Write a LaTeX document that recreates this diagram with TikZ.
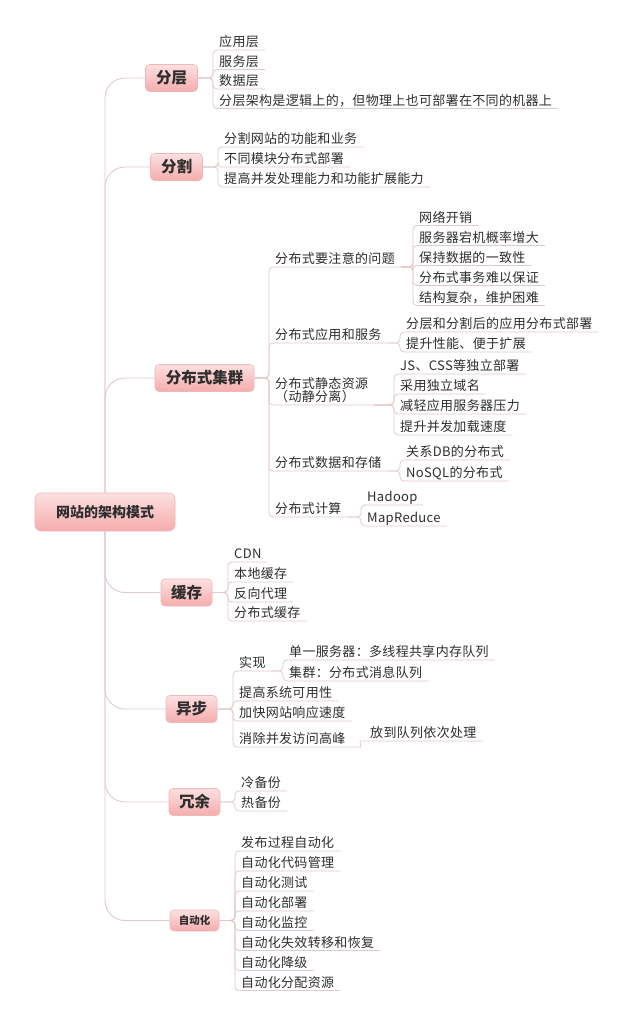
\documentclass[tikz,border=0pt]{standalone}
\usepackage{fontspec}
\setmainfont{Noto Sans CJK SC}
\newfontfamily\leaffont{Noto Sans CJK SC}[LetterSpace=2.5]
\definecolor{ln}{HTML}{E5C9C9}
\definecolor{tx}{HTML}{2E2E2E}
\definecolor{bxtop}{HTML}{FDE0E0}
\definecolor{bxbot}{HTML}{F5ACAC}
\definecolor{bxdraw}{HTML}{EFB7B7}
\begin{document}
\begin{tikzpicture}[x=1pt,y=-1pt,
  mainbox/.style={rounded corners=4pt, top color=bxtop, bottom color=bxbot, draw=bxdraw, line width=0.6pt,
    font=\fontsize{15.5}{16}\selectfont\bfseries, text=tx, inner sep=0pt, minimum height=27pt},
  rootbox/.style={mainbox, font=\fontsize{14}{15}\selectfont\bfseries, minimum width=140pt, minimum height=38pt, rounded corners=6pt},
  leaf/.style={anchor=south west, inner xsep=6pt, inner ysep=0pt, text height=10pt, text depth=3pt,
    font=\leaffont\fontsize{13}{14}\selectfont, text=tx, align=left},
  conn/.style={draw=ln, line width=0.8pt, rounded corners=4pt},
  trunk/.style={draw=ln, line width=0.9pt, rounded corners=20pt}]
\fill[white] (0,0) rectangle (632,1024);
\useasboundingbox (0,0) rectangle (632,1024);

% root and main branches
\node[rootbox] (root) at (105,512) {网站的架构模式};
\node[mainbox, minimum width=52pt] (fc) at (171.5,78) {分层};
\node[mainbox, minimum width=52pt] (fg) at (176.5,167) {分割};
\node[mainbox, minimum width=99pt] (fb) at (204.5,378) {分布式集群};
\node[mainbox, minimum width=51pt] (hc) at (186.5,592.5) {缓存};
\node[mainbox, minimum width=51pt] (yb) at (191.5,709) {异步};
\node[mainbox, minimum width=51pt] (ry) at (194.5,802) {冗余};
\node[mainbox, minimum width=49pt, minimum height=21pt, font=\fontsize{10.5}{11}\selectfont\bfseries] (zd) at (194.5,920.5) {自动化};

\foreach \m in {fc,fg,fb} {\draw[trunk] (root.north) |- (\m.west);}
\foreach \m in {hc,yb,ry,zd} {\draw[trunk] (root.south) |- (\m.west);}

% 分层
\foreach \n/\y/\t in {fc1/50/应用层, fc2/69.5/服务层, fc3/89/数据层, fc4/108.5/分层架构是逻辑上的，但物理上也可部署在不同的机器上} {
  \node[leaf] (\n) at (213,\y) {\t};
  \draw[conn] (fc.east) -| (\n.south west) -- (\n.south east);
}
% 分割
\foreach \n/\y/\t in {fg1/147/分割网站的功能和业务, fg2/167/不同模块分布式部署, fg3/187/提高并发处理能力和功能扩展能力} {
  \node[leaf] (\n) at (218,\y) {\t};
  \draw[conn] (fg.east) -| (\n.south west) -- (\n.south east);
}
% 分布式集群
\node[leaf] (fbA) at (269,267) {分布式要注意的问题};
\node[leaf] (fbB) at (269,343) {分布式应用和服务};
\node[leaf, font=\leaffont\fontsize{13}{13.5}\selectfont] (fbC) at (269,405) {分布式静态资源\\（动静分离）};
\node[leaf] (fbD) at (269,471) {分布式数据和存储};
\node[leaf] (fbE) at (269,517) {分布式计算};
\foreach \n in {fbA,fbB,fbC,fbD,fbE} {\draw[conn] (fb.east) -| (\n.south west) -- (\n.south east);}

\foreach \n/\y/\t in {a1/225.5/网络开销, a2/245.5/服务器宕机概率增大, a3/265.5/保持数据的一致性, a4/285.5/分布式事务难以保证, a5/305.5/结构复杂，维护困难} {
  \node[leaf] (\n) at (413,\y) {\t};
  \draw[conn] (fbA.south east) -| (\n.south west) -- (\n.south east);
}
\foreach \n/\y/\t in {b1/332/分层和分割后的应用分布式部署, b2/352/提升性能、便于扩展} {
  \node[leaf] (\n) at (400,\y) {\t};
  \draw[conn] (fbB.south east) -| (\n.south west) -- (\n.south east);
}
\foreach \n/\y/\t in {c1/374/JS、CSS等独立部署, c2/394/采用独立域名, c3/414/减轻应用服务器压力, c4/435/提升并发加载速度} {
  \node[leaf] (\n) at (394,\y) {\t};
  \draw[conn] (fbC.south east) -| (\n.south west) -- (\n.south east);
}
\foreach \n/\y/\t in {d1/460/关系DB的分布式, d2/481/NoSQL的分布式} {
  \node[leaf] (\n) at (400,\y) {\t};
  \draw[conn] (fbD.south east) -| (\n.south west) -- (\n.south east);
}
\foreach \n/\y/\t in {e1/505/Hadoop, e2/526/MapReduce} {
  \node[leaf] (\n) at (361,\y) {\t};
  \draw[conn] (fbE.south east) -| (\n.south west) -- (\n.south east);
}

% 缓存
\foreach \n/\y/\t in {h1/562/CDN, h2/582/本地缓存, h3/602/反向代理, h4/621/分布式缓存} {
  \node[leaf] (\n) at (228,\y) {\t};
  \draw[conn] (hc.east) -| (\n.south west) -- (\n.south east);
}

% 异步
\foreach \n/\y/\t in {y1/671/实现, y2/701/提高系统可用性, y3/721/加快网站响应速度, y4/747/消除并发访问高峰} {
  \node[leaf] (\n) at (233,\y) {\t};
  \draw[conn] (yb.east) -| (\n.south west) -- (\n.south east);
}
\foreach \n/\y/\t in {y11/660/单一服务器：多线程共享内存队列, y12/681/集群：分布式消息队列} {
  \node[leaf] (\n) at (283,\y) {\t};
  \draw[conn] (y1.south east) -| (\n.south west) -- (\n.south east);
}
\node[leaf] (y41) at (364,741) {放到队列依次处理};
\draw[conn] (y4.south east) -- ++(5,0) to[out=0,in=180] (y41.south west) -- (y41.south east);

% 冗余
\foreach \n/\y/\t in {r1/791/冷备份, r2/811/热备份} {
  \node[leaf] (\n) at (235,\y) {\t};
  \draw[conn] (ry.east) -| (\n.south west) -- (\n.south east);
}

% 自动化
\foreach \n/\y/\t in {z1/851/发布过程自动化, z2/871/自动化代码管理, z3/891/自动化测试, z4/911/自动化部署, z5/930.5/自动化监控, z6/950.5/自动化失效转移和恢复, z7/970.5/自动化降级, z8/990.5/自动化分配资源} {
  \node[leaf] (\n) at (235,\y) {\t};
  \draw[conn] (zd.east) -| (\n.south west) -- (\n.south east);
}
\end{tikzpicture}
\end{document}
